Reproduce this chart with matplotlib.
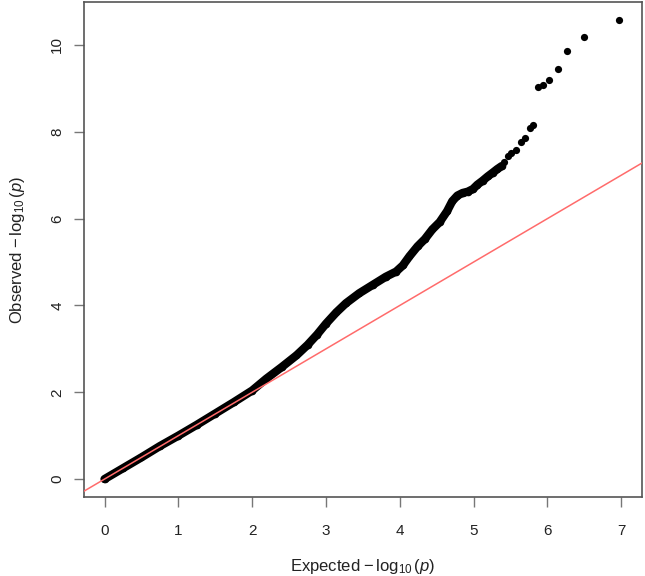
# QQプロット（観測 vs 期待 -log10(p)）をRっぽく描く
import matplotlib
matplotlib.use('Agg')
import matplotlib.pyplot as plt

plt.rcParams['font.family'] = ['Liberation Sans', 'DejaVu Sans']
plt.rcParams['mathtext.fontset'] = 'custom'
plt.rcParams['mathtext.rm'] = 'Liberation Sans'
plt.rcParams['mathtext.it'] = 'Liberation Sans:italic'

# 点が密集している部分（太い帯に見える）
dense_x = [0.00, 0.25, 0.50, 0.75, 1.00, 1.25, 1.50, 1.75, 2.00, 2.19,
           2.40, 2.60, 2.75, 2.88, 3.00, 3.14, 3.27, 3.45, 3.63, 3.81,
           3.95, 4.04, 4.13, 4.24, 4.34, 4.44, 4.54, 4.64, 4.71, 4.78,
           4.85, 4.92, 4.99, 5.05, 5.12, 5.19, 5.26, 5.32, 5.38]
dense_y = [0.00, 0.25, 0.50, 0.76, 1.00, 1.25, 1.51, 1.77, 2.04, 2.31,
           2.58, 2.85, 3.09, 3.33, 3.58, 3.84, 4.05, 4.28, 4.47, 4.66,
           4.78, 4.92, 5.13, 5.36, 5.53, 5.75, 5.92, 6.17, 6.40, 6.53,
           6.59, 6.62, 6.68, 6.78, 6.87, 6.97, 7.06, 7.14, 7.21]

# 上の方のまばらな点
top_x = [5.41, 5.46, 5.50, 5.57, 5.64, 5.69, 5.76, 5.81,
         5.87, 5.94, 6.02, 6.14, 6.27, 6.50, 6.97]
top_y = [7.30, 7.44, 7.52, 7.59, 7.77, 7.86, 8.09, 8.16,
         9.02, 9.08, 9.19, 9.44, 9.86, 10.18, 10.58]

xticks = [0, 1, 2, 3, 4, 5, 6, 7]
yticks = [0, 2, 4, 6, 8, 10]

fig = plt.figure(figsize=(6.45, 5.76), dpi=100)
ax = fig.add_axes([0.130, 0.1366, 0.8653, 0.8600])

# 密集部分は太線＋点で帯っぽく
ax.plot(dense_x, dense_y, color='black', lw=6.0,
        solid_capstyle='round', solid_joinstyle='round', zorder=2)
ax.plot(dense_x, dense_y, 'o', color='black', ms=5.5, mew=0, zorder=2)
ax.plot(top_x, top_y, 'o', color='black', ms=5.2, mew=0, zorder=2)

# y = x の線
ax.axline((0, 0), slope=1, color='#ff6b6b', lw=1.1, zorder=3)

ax.set_xlim(-0.28, 7.28)
ax.set_ylim(-0.42, 10.99)
ax.set_xticks(xticks)
ax.set_yticks(yticks)

for s in ax.spines.values():
    s.set_color('#555555')
    s.set_linewidth(1.2)
ax.tick_params(direction='out', length=7.2, width=1.0, color='#777777',
               labelsize=11, labelcolor='#222222')
ax.tick_params(axis='x', pad=12)
ax.tick_params(axis='y', pad=7, labelrotation=90)
for lab in ax.get_yticklabels():
    lab.set_va('center')

ax.set_xlabel(r'Expected $-\,\log_{10}(\mathit{p})$', fontsize=12,
              color='#222222', labelpad=14)
ax.set_ylabel(r'Observed $-\,\log_{10}(\mathit{p})$', fontsize=12,
              color='#222222', labelpad=17)

fig.savefig('out.png', dpi=100)
